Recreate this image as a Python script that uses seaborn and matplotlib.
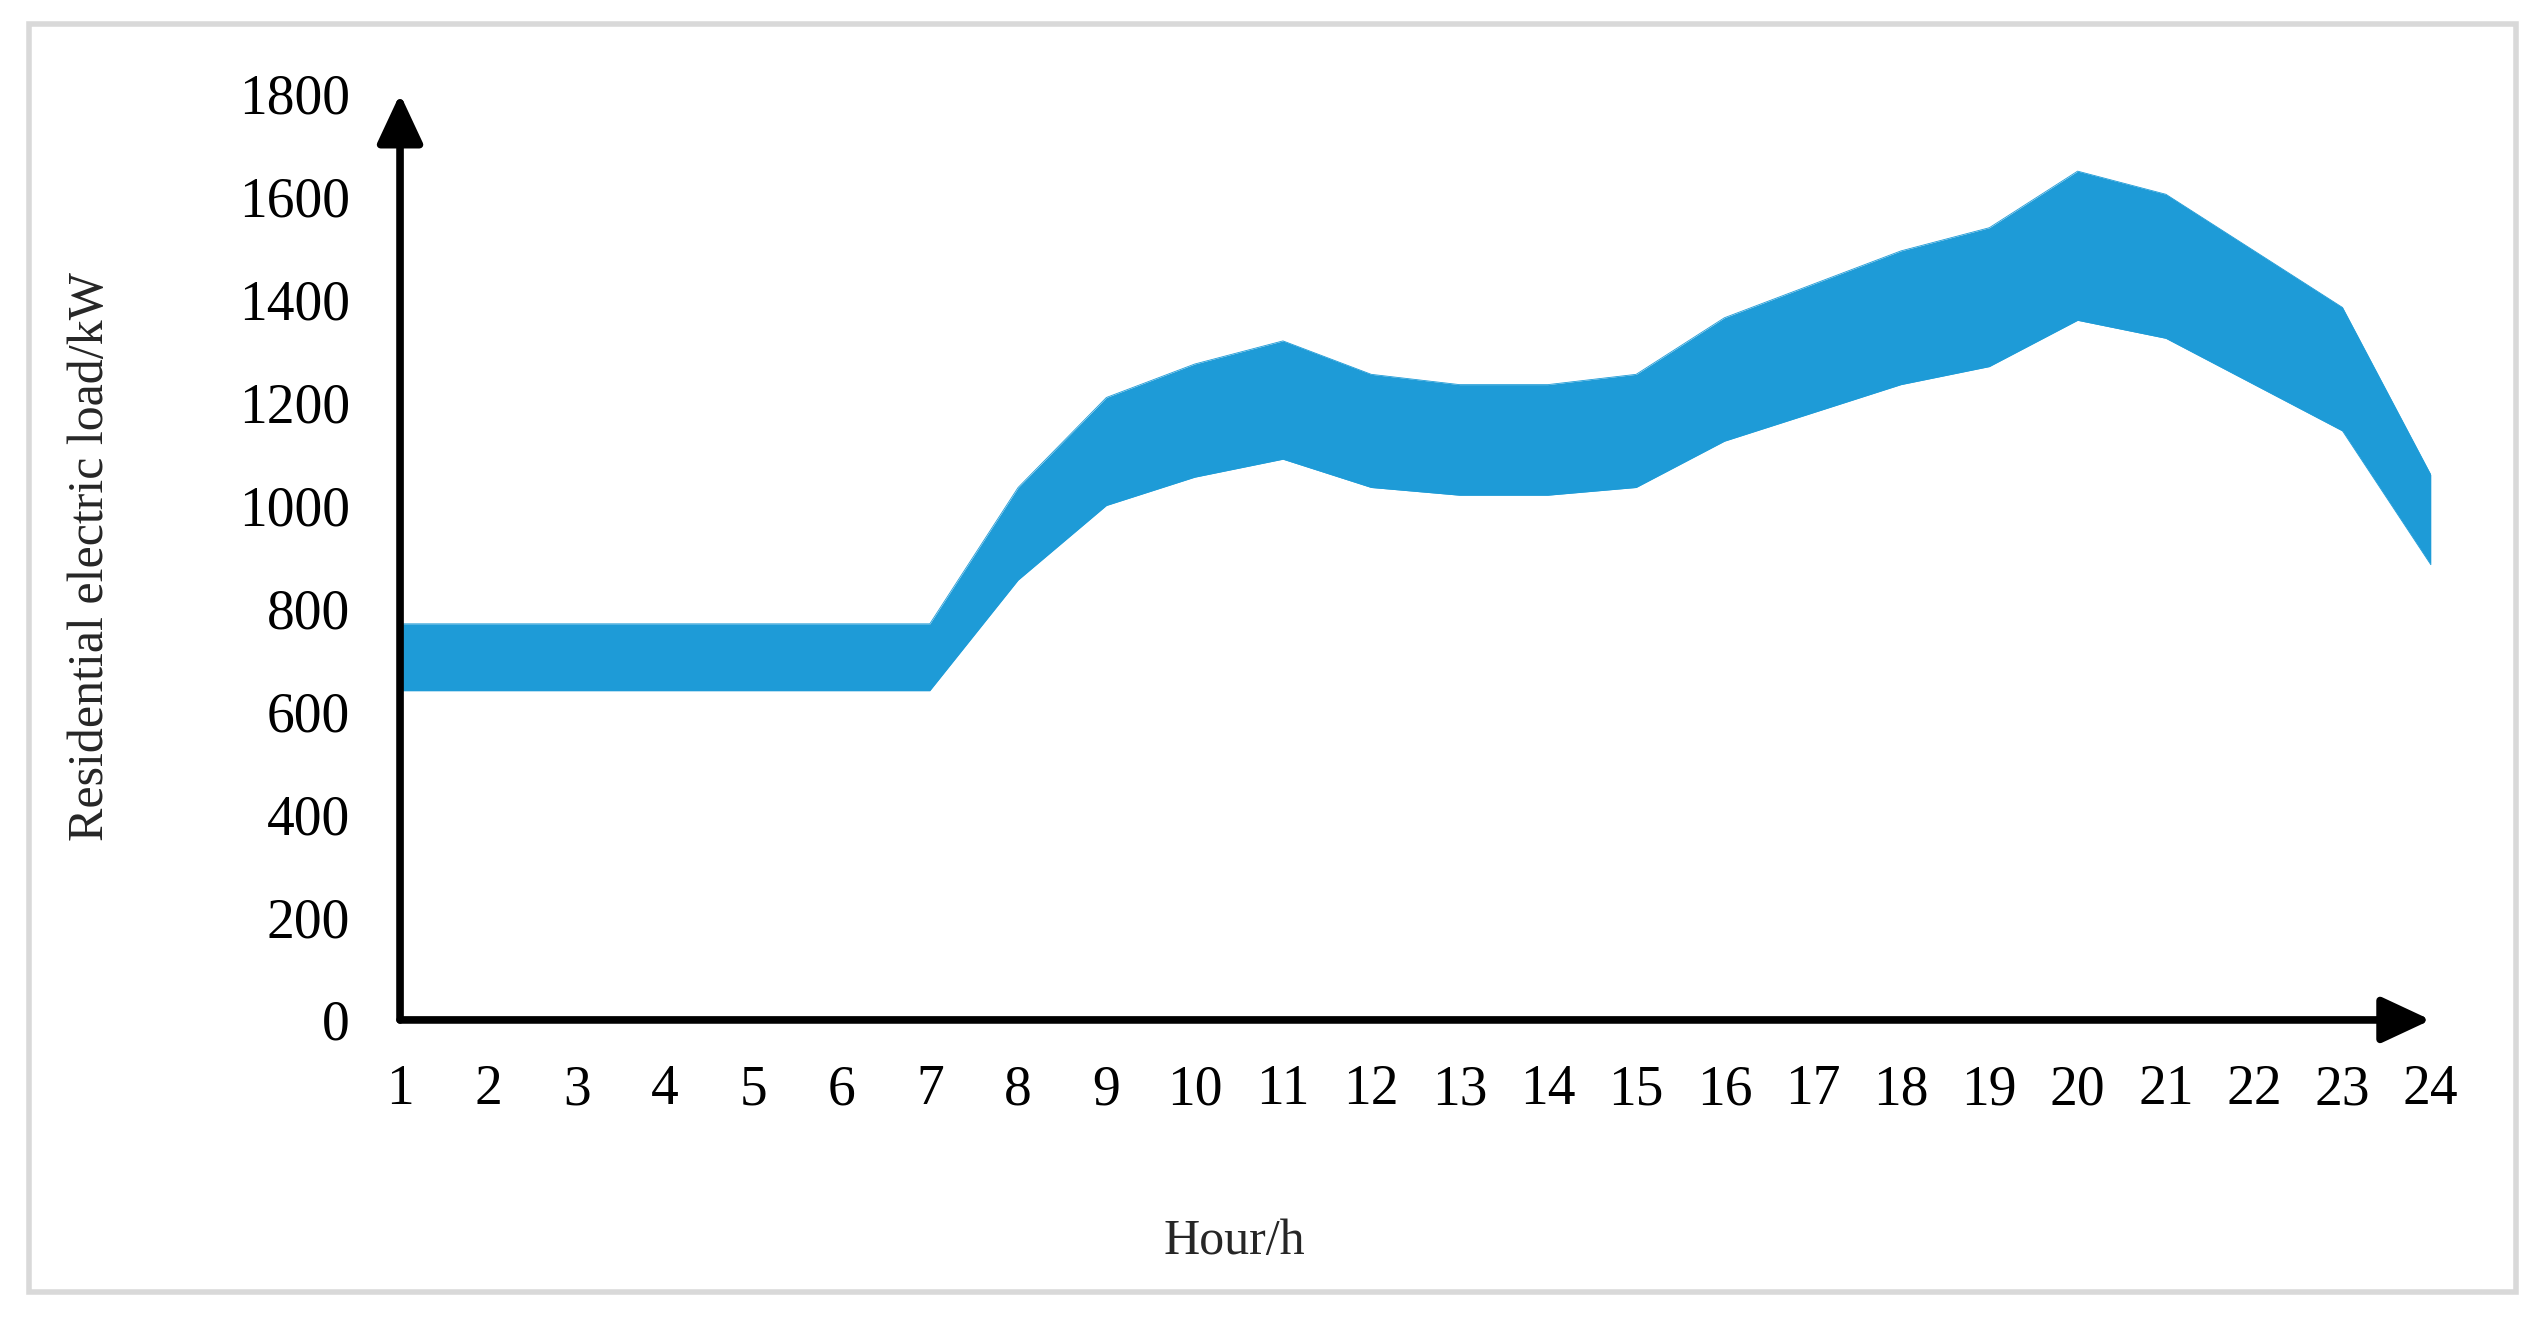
import seaborn as sns
import matplotlib.pyplot as plt
import matplotlib.patches as patches
import pandas as pd

# hourly residential electric load band (kW)
hours = list(range(1, 25))
load_upper = [770, 770, 770, 770, 770, 770, 770, 1035, 1210, 1275, 1320, 1255,
              1235, 1235, 1255, 1365, 1430, 1495, 1540, 1650, 1605, 1495, 1385, 1060]
load_lower = [640, 640, 640, 640, 640, 640, 640, 855, 1000, 1055, 1090, 1035,
              1020, 1020, 1035, 1125, 1180, 1235, 1270, 1360, 1325, 1235, 1145, 885]
y_ticks = [0, 200, 400, 600, 800, 1000, 1200, 1400, 1600, 1800]

band_color = '#1E9BD7'

df = pd.DataFrame({'hour': hours, 'upper': load_upper, 'lower': load_lower})

sns.set_style('white')
plt.rcParams['font.family'] = ['Liberation Serif', 'DejaVu Serif']

fig = plt.figure(figsize=(25.48, 13.31), dpi=100)
ax = fig.add_axes([0.157, 0.2337, 0.797, 0.6957])

# light grey frame round the whole chart
fig.patches.append(patches.Rectangle((0.0114, 0.0293), 0.976, 0.9527, transform=fig.transFigure,
                                     fill=False, edgecolor='#d9d9d9', linewidth=4))

ax.fill_between(df['hour'], df['lower'], df['upper'], color=band_color, linewidth=0)
sns.lineplot(data=df, x='hour', y='upper', ax=ax, color=band_color, linewidth=0.6)
sns.lineplot(data=df, x='hour', y='lower', ax=ax, color=band_color, linewidth=0.6)

ax.set_xlim(1, 24)
ax.set_ylim(0, 1800)
ax.set_xticks(hours)
ax.set_yticks(y_ticks)
ax.tick_params(axis='both', length=0, labelsize=40, colors='black')
ax.tick_params(axis='x', pad=32)
ax.tick_params(axis='y', pad=36)

for s in ax.spines.values():
    s.set_visible(False)

# axis lines with arrow heads
arrow = dict(arrowstyle='-|>,head_length=3.0,head_width=1.4', lw=5.5, color='black',
             shrinkA=0, shrinkB=0)
ax.annotate('', xy=(0, 1), xytext=(0, 0), xycoords='axes fraction', arrowprops=arrow)
ax.annotate('', xy=(1, 0), xytext=(0, 0), xycoords='axes fraction', arrowprops=arrow)

ax.set_xlabel('Hour/h', fontsize=36)
ax.set_ylabel('Residential electric load/kW', fontsize=36)
ax.yaxis.set_label_coords(-0.141, 0.5)
ax.xaxis.set_label_coords(0.411, -0.214)

fig.savefig('out.png', dpi=100, facecolor='white')
